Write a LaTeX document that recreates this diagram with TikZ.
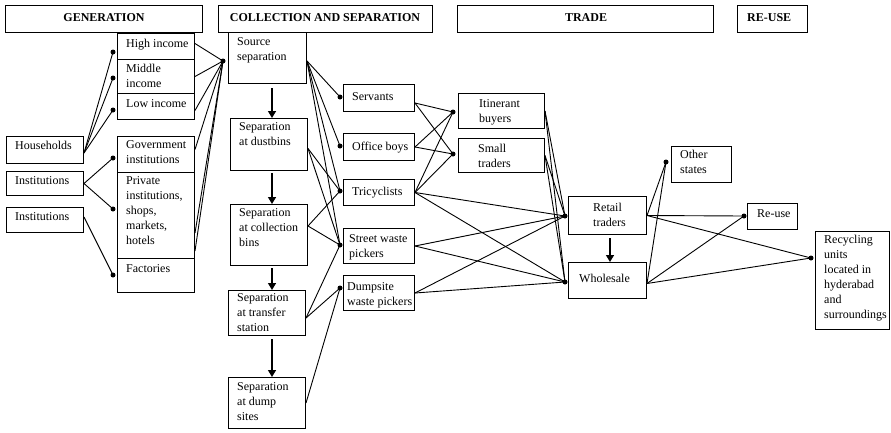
\documentclass[tikz,border=0pt]{standalone}
\usepackage{fontspec}
\setmainfont{Liberation Serif}
\usetikzlibrary{arrows.meta,calc}

\tikzset{
  box/.style={draw, line width=1pt, inner sep=0pt, anchor=north west},
  txt/.style={anchor=north west, inner sep=0pt, align=left, font=\fontsize{12}{15}\selectfont},
  head/.style={anchor=base, inner sep=0pt, font=\fontsize{12}{14}\selectfont\bfseries},
  dot/.style={circle, fill, inner sep=0pt, minimum size=5pt},
  link/.style={line width=0.9pt},
  flow/.style={line width=1.4pt, -{Triangle[length=7pt,width=8pt]}},
}

% box from its top-left corner (#2,#3) to its bottom-right corner (#4,#5)
\newcommand\bx[5]{\node[box, minimum width={#4pt-#2pt}, minimum height={#5pt-#3pt}] (#1) at (#2,#3) {};}
% text of a box, first baseline at (#2,#3); the strut fixes the first line's height
\newcommand\tx[4]{\node[txt] (#1-t) at (#2,#3-9) {\rule{0pt}{9pt}#4};}

\begin{document}
\begin{tikzpicture}[x=1pt, y=-1pt]
\useasboundingbox (0,0) rectangle (891,432);

% ---------- stage headings ----------
\bx{hGen}{5}{5}{202}{32}
\node[head] (hGen-t) at (104,21) {GENERATION};
\bx{hCol}{218}{5}{432}{32}
\node[head] (hCol-t) at (325,21) {COLLECTION AND SEPARATION};
\bx{hTrade}{457}{5}{713}{32}
\node[head] (hTrade-t) at (586,21) {TRADE};
\bx{hReuse}{737}{5}{807}{32}
\node[head, anchor=base west] (hReuse-t) at (747,21) {RE-USE};

% ---------- generation ----------
\bx{high}{117}{33}{194}{59}     \tx{high}{126}{47}{High income}
\bx{middle}{117}{59}{194}{93}   \tx{middle}{126}{72}{Middle\\income}
\bx{low}{117}{93}{194}{119}     \tx{low}{126}{107}{Low income}
\bx{gov}{117}{136}{194}{172}    \tx{gov}{126}{148}{Government\\institutions}
\bx{priv}{117}{172}{194}{258}   \tx{priv}{126}{184}{Private\\institutions,\\shops,\\markets,\\hotels}
\bx{fact}{117}{258}{194}{292}   \tx{fact}{126}{272}{Factories}

\bx{hh}{6}{136}{83}{163}        \tx{hh}{15}{149}{Households}
\bx{inst1}{6}{171}{83}{195}     \tx{inst1}{15}{184}{Institutions}
\bx{inst2}{6}{207}{83}{232}     \tx{inst2}{15}{220}{Institutions}

% ---------- collection and separation ----------
\bx{src}{228}{32}{306}{83}      \tx{src}{237}{45}{Source\\separation}
\bx{dust}{230}{118}{307}{170}   \tx{dust}{239}{130}{Separation\\at dustbins}
\bx{cbin}{230}{204}{307}{265}   \tx{cbin}{239}{216}{Separation\\at collection\\bins}
\bx{trans}{228}{290}{305}{335}  \tx{trans}{237}{301}{Separation\\at transfer\\station}
\bx{dump}{228}{377}{305}{428}   \tx{dump}{237}{390}{Separation\\at dump\\sites}

\bx{serv}{343}{84}{414}{111}    \tx{serv}{352}{100}{Servants}
\bx{off}{343}{133}{414}{160}    \tx{off}{352}{150}{Office boys}
\bx{tri}{343}{179}{414}{205}    \tx{tri}{352}{195}{Tricyclists}
\bx{street}{343}{228}{414}{263} \tx{street}{349}{242}{Street waste\\pickers}
\bx{dsite}{343}{275}{414}{310}  \tx{dsite}{347}{290}{Dumpsite\\waste pickers}

% ---------- trade ----------
\bx{itin}{458}{93}{544}{128}    \tx{itin}{479}{107}{Itinerant\\buyers}
\bx{small}{458}{138}{544}{172}  \tx{small}{478}{152}{Small\\traders}
\bx{retail}{568}{196}{646}{234} \tx{retail}{593}{211}{Retail\\traders}
\bx{whole}{568}{262}{646}{298}  \tx{whole}{579}{282}{Wholesale}

% ---------- re-use ----------
\bx{other}{671}{146}{731}{182}  \tx{other}{680}{158}{Other\\states}
\bx{reuse}{747}{203}{797}{229}  \tx{reuse}{757}{217}{Re-use}
\bx{recyc}{815}{231}{889}{329}  \tx{recyc}{824}{243}{Recycling\\units\\located in\\hyderabad\\and\\surroundings}

% ---------- receiving dots ----------
\node[dot] (dHigh)   at (113,52)  {};
\node[dot] (dMid)    at (113,78)  {};
\node[dot] (dLow)    at (113,110) {};
\node[dot] (dGov)    at (113,158) {};
\node[dot] (dPriv)   at (113,209) {};
\node[dot] (dFact)   at (113,275) {};
\node[dot] (dSrc)    at (223,61)  {};
\node[dot] (dServ)   at (340,97)  {};
\node[dot] (dOff)    at (340,146) {};
\node[dot] (dTri)    at (340,191) {};
\node[dot] (dStreet) at (340,245) {};
\node[dot] (dDsite)  at (340,288) {};
\node[dot] (dItin)   at (453,112) {};
\node[dot] (dSmall)  at (453,154) {};
\node[dot] (dRetail) at (565,216) {};
\node[dot] (dWhole)  at (565,282) {};
\node[dot] (dOther)  at (666,162) {};
\node[dot] (dReuse)  at (744,216) {};
\node[dot] (dRecyc)  at (811,258) {};

% ---------- generation links ----------
\foreach \t in {dHigh,dMid,dLow} \draw[link] ($(hh.east)+(0,3)$) -- (\t.center);
\foreach \t in {dGov,dPriv} \draw[link] (inst1.east) -- (\t.center);
\draw[link] ($(inst2.east)+(0,-3)$) -- (dFact.center);

\draw[link] (dSrc.center) -- ($(high.east)+(0,-3)$);
\draw[link] (dSrc.center) -- (middle.east);
\draw[link] (dSrc.center) -- ($(low.east)+(0,4)$);
\draw[link] (dSrc.center) -- ($(gov.east)+(0,-5)$);
\draw[link] (dSrc.center) -- ($(priv.south east)+(0,-26)$);
\draw[link] (dSrc.center) -- ($(priv.south east)+(0,-8)$);

% ---------- collection links ----------
\foreach \t in {dServ,dOff,dTri,dStreet} \draw[link] ($(src.east)+(0,3)$) -- (\t.center);
\foreach \t in {dTri,dStreet} \draw[link] ($(dust.east)+(0,4)$) -- (\t.center);
\foreach \t in {dTri,dStreet} \draw[link] ($(cbin.east)+(0,-9)$) -- (\t.center);
\foreach \t in {dStreet,dDsite} \draw[link] ($(trans.east)+(0,5)$) -- (\t.center);
\draw[link] (dump.east) -- (dDsite.center);

% ---------- trade links ----------
\foreach \t in {dItin,dSmall} \draw[link] ($(serv.east)+(0,5)$) -- (\t.center);
\foreach \t in {dItin,dSmall} \draw[link] (off.east) -- (\t.center);
\foreach \t in {dItin,dSmall,dRetail,dWhole} \draw[link] (tri.east) -- (\t.center);
\foreach \t in {dRetail,dWhole} \draw[link] (street.east) -- (\t.center);
\foreach \t in {dRetail,dWhole} \draw[link] (dsite.east) -- (\t.center);
\foreach \t in {dRetail,dWhole} \draw[link] (itin.east) -- (\t.center);
\foreach \t in {dRetail,dWhole} \draw[link] (small.east) -- (\t.center);

% ---------- re-use links ----------
\foreach \t in {dOther,dReuse,dRecyc} \draw[link] (retail.east) -- (\t.center);
\foreach \t in {dOther,dReuse,dRecyc} \draw[link] ($(whole.east)+(0,3)$) -- (\t.center);

% ---------- separation sequence ----------
\coordinate (ax) at (272,0);
\coordinate (bx) at (610,0);
\draw[flow] ($(src.south -| ax)+(0,4)$)   -- (dust.north -| ax);
\draw[flow] ($(dust.south -| ax)+(0,2)$)  -- (cbin.north -| ax);
\draw[flow] ($(cbin.south -| ax)+(0,2)$)  -- (trans.north -| ax);
\draw[flow] ($(trans.south -| ax)+(0,3)$) -- (dump.north -| ax);
\draw[flow] ($(retail.south -| bx)+(0,3)$) -- (whole.north -| bx);
\end{tikzpicture}
\end{document}
